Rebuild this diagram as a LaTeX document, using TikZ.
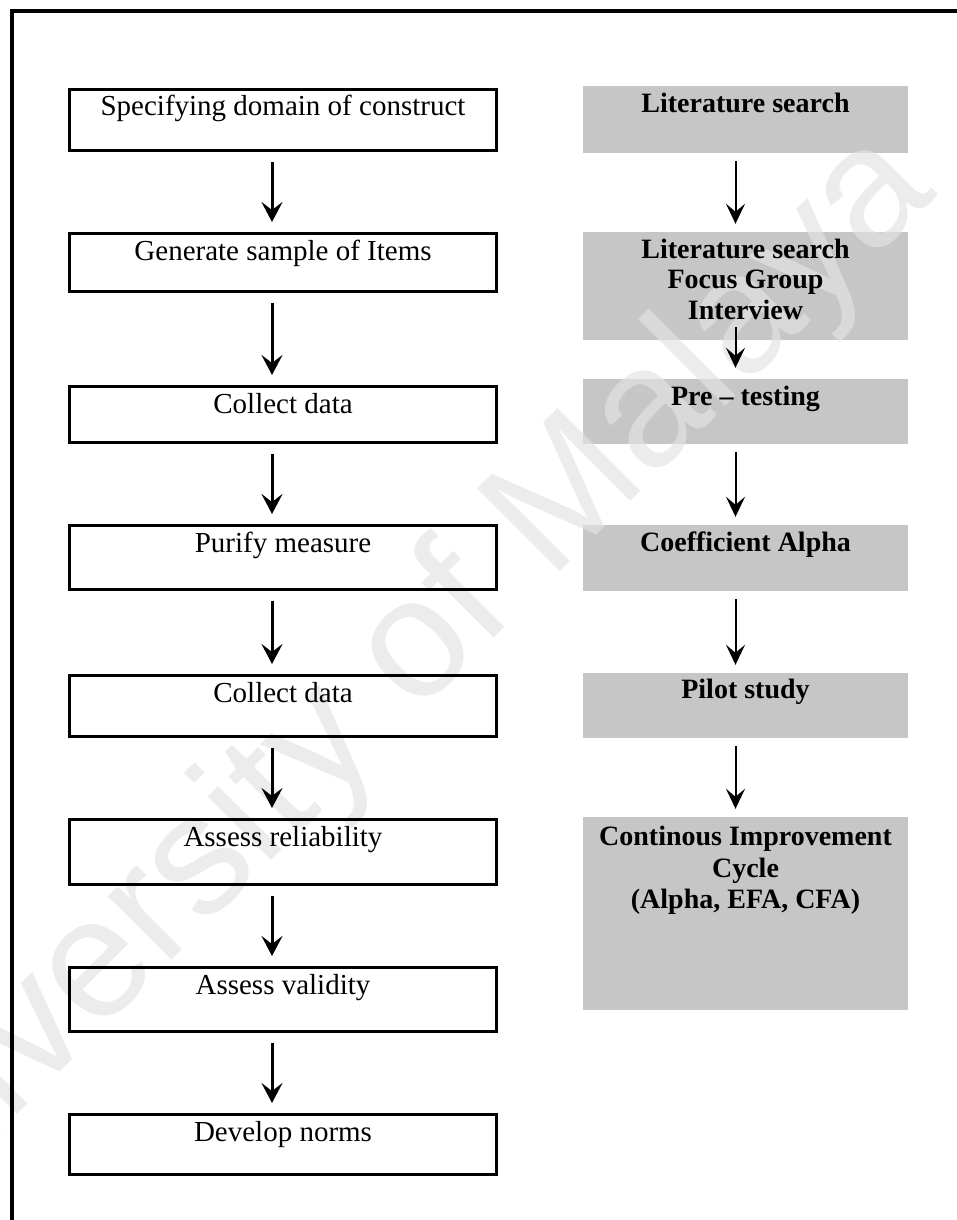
\documentclass[tikz,border=0pt]{standalone}
\usepackage{fontspec}
\setmainfont{Liberation Serif}
\newfontfamily\wmfont{Liberation Sans}
\usetikzlibrary{arrows.meta}
\definecolor{boxgray}{RGB}{198,198,198}
\definecolor{wmgray}{RGB}{227,227,227}
\begin{document}
\begin{tikzpicture}[x=1pt,y=-1pt,
  lbox/.style={draw=black, line width=3pt, minimum width=427pt, inner sep=0pt},
  gbox/.style={fill=boxgray, minimum width=325pt, inner sep=0pt},
  ltxt/.style={font=\fontsize{29}{33}\selectfont, inner sep=0pt, anchor=base},
  gtxt/.style={font=\bfseries\fontsize{28}{32}\selectfont, inner sep=0pt, anchor=base},
  larr/.style={line width=3pt, -{Stealth[length=20pt,width=21pt,inset=8pt]}, shorten <=9.5pt, shorten >=10pt},
  garr/.style={line width=2pt, -{Stealth[length=20pt,width=19pt,inset=8pt]}, shorten <=8pt, shorten >=8pt},
]
\useasboundingbox (0,0) rectangle (957,1220);
\fill[white] (0,0) rectangle (957,1220);

% right column boxes: methods used at each step
\node[gbox, minimum height=67pt]  (g1) at (745.5,119.5) {};
\node[gbox, minimum height=108pt] (g2) at (745.5,286)   {};
\node[gbox, minimum height=65pt]  (g3) at (745.5,411.5) {};
\node[gbox, minimum height=66pt]  (g4) at (745.5,558)   {};
\node[gbox, minimum height=65pt]  (g5) at (745.5,705.5) {};
\node[gbox, minimum height=193pt] (g6) at (745.5,913.5) {};

% watermark
\node[rotate=45, text=wmgray, text opacity=0.68, font=\wmfont\fontsize{170}{170}\selectfont, inner sep=0pt] (wm) at (366,704) {University of Malaya};

% frame
\draw[line width=4pt] (12,1222) -- (12,11) -- (959,11);

% left column: scale development steps
\node[lbox, minimum height=61pt] (b1) at (283,120)    {};
\node[lbox, minimum height=58pt] (b2) at (283,262.5)  {};
\node[lbox, minimum height=56pt] (b3) at (283,414.5)  {};
\node[lbox, minimum height=64pt] (b4) at (283,557.5)  {};
\node[lbox, minimum height=61pt] (b5) at (283,706)    {};
\node[lbox, minimum height=65pt] (b6) at (283,852)    {};
\node[lbox, minimum height=64pt] (b7) at (283,999.5)  {};
\node[lbox, minimum height=60pt] (b8) at (283,1144.5) {};

\node[ltxt] (t1) at ([yshift=-28pt]b1.north) {Specifying domain of construct};
\node[ltxt] (t2) at ([yshift=-28pt]b2.north) {Generate sample of Items};
\node[ltxt] (t3) at ([yshift=-28pt]b3.north) {Collect data};
\node[ltxt] (t4) at ([yshift=-28pt]b4.north) {Purify measure};
\node[ltxt] (t5) at ([yshift=-28pt]b5.north) {Collect data};
\node[ltxt] (t6) at ([yshift=-28pt]b6.north) {Assess reliability};
\node[ltxt] (t7) at ([yshift=-28pt]b7.north) {Assess validity};
\node[ltxt] (t8) at ([yshift=-28pt]b8.north) {Develop norms};

\foreach \a/\b in {b1/b2,b2/b3,b3/b4,b4/b5,b5/b6,b6/b7,b7/b8}
  \draw[larr] ([xshift=-11pt]\a.south) -- ([xshift=-11pt]\b.north);

% right column labels
\node[gtxt] (r1)  at ([yshift=-27pt]g1.north) {Literature search};
\node[gtxt] (r2a) at ([yshift=-27pt]g2.north) {Literature search};
\node[gtxt] (r2b) at ([yshift=-57pt]g2.north) {Focus Group};
\node[gtxt] (r2c) at ([yshift=-88pt]g2.north) {Interview};
\node[gtxt] (r3)  at ([yshift=-27pt]g3.north) {Pre – testing};
\node[gtxt] (r4)  at ([yshift=-27pt]g4.north) {Coefficient Alpha};
\node[gtxt] (r5)  at ([yshift=-26pt]g5.north) {Pilot study};
\node[gtxt] (r6a) at ([yshift=-29pt]g6.north) {Continous Improvement};
\node[gtxt] (r6b) at ([yshift=-61pt]g6.north) {Cycle};
\node[gtxt] (r6c) at ([yshift=-92pt]g6.north) {(Alpha, EFA, CFA)};

\draw[garr] ([xshift=-10pt]g1.south) -- ([xshift=-10pt]g2.north);
\draw[garr, shorten <=-13pt, shorten >=11pt] ([xshift=-10pt]g2.south) -- ([xshift=-10pt]g3.north);
\draw[garr] ([xshift=-10pt]g3.south) -- ([xshift=-10pt]g4.north);
\draw[garr] ([xshift=-10pt]g4.south) -- ([xshift=-10pt]g5.north);
\draw[garr] ([xshift=-10pt]g5.south) -- ([xshift=-10pt]g6.north);
\end{tikzpicture}
\end{document}
